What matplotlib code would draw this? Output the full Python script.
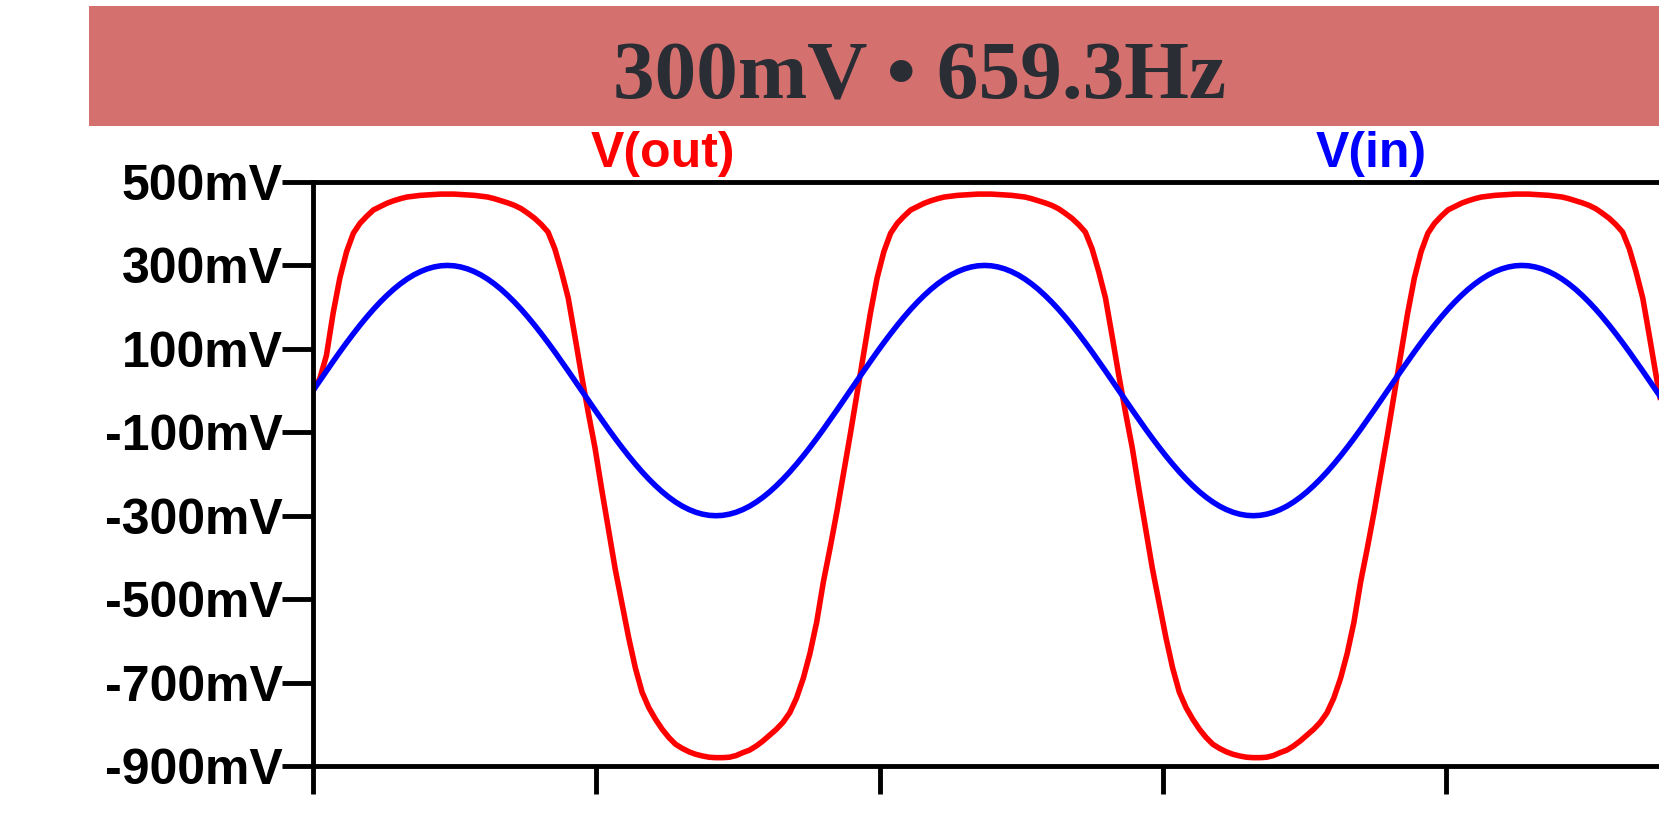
import matplotlib
matplotlib.use("Agg")
import matplotlib.pyplot as plt
from matplotlib.patches import Rectangle

# time in ms, one sample every 1/80 of a period (659.3 Hz)
t_ms = [0.0000, 0.0190, 0.0379, 0.0569, 0.0758, 0.0948, 0.1138, 0.1327, 0.1517, 0.1706,
        0.1896, 0.2086, 0.2275, 0.2465, 0.2654, 0.2844, 0.3034, 0.3223, 0.3413, 0.3602,
        0.3792, 0.3982, 0.4171, 0.4361, 0.4550, 0.4740, 0.4930, 0.5119, 0.5309, 0.5498,
        0.5688, 0.5878, 0.6067, 0.6257, 0.6446, 0.6636, 0.6826, 0.7015, 0.7205, 0.7394,
        0.7584, 0.7774, 0.7963, 0.8153, 0.8342, 0.8532, 0.8722, 0.8911, 0.9101, 0.9290,
        0.9480, 0.9670, 0.9859, 1.0049, 1.0238, 1.0428, 1.0618, 1.0807, 1.0997, 1.1186,
        1.1376, 1.1566, 1.1755, 1.1945, 1.2134, 1.2324, 1.2514, 1.2703, 1.2893, 1.3082,
        1.3272, 1.3462, 1.3651, 1.3841, 1.4030, 1.4220, 1.4410, 1.4599, 1.4789, 1.4978,
        1.5168, 1.5358, 1.5547, 1.5737, 1.5926, 1.6116, 1.6306, 1.6495, 1.6685, 1.6874,
        1.7064, 1.7254, 1.7443, 1.7633, 1.7822, 1.8012, 1.8202, 1.8391, 1.8581, 1.8770,
        1.8960, 1.9150, 1.9339, 1.9529, 1.9718, 1.9908, 2.0098, 2.0287, 2.0477, 2.0666,
        2.0856, 2.1046, 2.1235, 2.1425, 2.1614, 2.1804, 2.1994, 2.2183, 2.2373, 2.2562,
        2.2752, 2.2942, 2.3131, 2.3321, 2.3510, 2.3700, 2.3890, 2.4079, 2.4269, 2.4458,
        2.4648, 2.4838, 2.5027, 2.5217, 2.5406, 2.5596, 2.5786, 2.5975, 2.6165, 2.6354,
        2.6544, 2.6734, 2.6923, 2.7113, 2.7302, 2.7492, 2.7682, 2.7871, 2.8061, 2.8250,
        2.8440, 2.8630, 2.8819, 2.9009, 2.9198, 2.9388, 2.9578, 2.9767, 2.9957, 3.0146,
        3.0336, 3.0526, 3.0715, 3.0905, 3.1094, 3.1284, 3.1474, 3.1663, 3.1853, 3.2042,
        3.2232, 3.2422, 3.2611, 3.2801, 3.2990, 3.3180, 3.3370, 3.3559, 3.3749, 3.3938,
        3.4128, 3.4318, 3.4507, 3.4697, 3.4886, 3.5076, 3.5266, 3.5455, 3.5645, 3.5834,
        3.6024, 3.6214, 3.6403, 3.6593, 3.6782, 3.6972, 3.7162, 3.7351, 3.7541, 3.7730,
        3.7920, 3.8110, 3.8299]

# V(in), mV
v_in = [0, 23.5, 46.9, 70.0, 92.7, 114.8, 136.2, 156.7, 176.3, 194.8,
        212.1, 228.1, 242.7, 255.8, 267.3, 277.2, 285.3, 291.7, 296.3, 299.1,
        300, 299.1, 296.3, 291.7, 285.3, 277.2, 267.3, 255.8, 242.7, 228.1,
        212.1, 194.8, 176.3, 156.7, 136.2, 114.8, 92.7, 70.0, 46.9, 23.5,
        0, -23.5, -46.9, -70.0, -92.7, -114.8, -136.2, -156.7, -176.3, -194.8,
        -212.1, -228.1, -242.7, -255.8, -267.3, -277.2, -285.3, -291.7, -296.3, -299.1,
        -300, -299.1, -296.3, -291.7, -285.3, -277.2, -267.3, -255.8, -242.7, -228.1,
        -212.1, -194.8, -176.3, -156.7, -136.2, -114.8, -92.7, -70.0, -46.9, -23.5,
        0, 23.5, 46.9, 70.0, 92.7, 114.8, 136.2, 156.7, 176.3, 194.8,
        212.1, 228.1, 242.7, 255.8, 267.3, 277.2, 285.3, 291.7, 296.3, 299.1,
        300, 299.1, 296.3, 291.7, 285.3, 277.2, 267.3, 255.8, 242.7, 228.1,
        212.1, 194.8, 176.3, 156.7, 136.2, 114.8, 92.7, 70.0, 46.9, 23.5,
        0, -23.5, -46.9, -70.0, -92.7, -114.8, -136.2, -156.7, -176.3, -194.8,
        -212.1, -228.1, -242.7, -255.8, -267.3, -277.2, -285.3, -291.7, -296.3, -299.1,
        -300, -299.1, -296.3, -291.7, -285.3, -277.2, -267.3, -255.8, -242.7, -228.1,
        -212.1, -194.8, -176.3, -156.7, -136.2, -114.8, -92.7, -70.0, -46.9, -23.5,
        0, 23.5, 46.9, 70.0, 92.7, 114.8, 136.2, 156.7, 176.3, 194.8,
        212.1, 228.1, 242.7, 255.8, 267.3, 277.2, 285.3, 291.7, 296.3, 299.1,
        300, 299.1, 296.3, 291.7, 285.3, 277.2, 267.3, 255.8, 242.7, 228.1,
        212.1, 194.8, 176.3, 156.7, 136.2, 114.8, 92.7, 70.0, 46.9, 23.5,
        0, -23.5, -46.9]

# V(out), mV
v_out = [0, 28, 84, 186, 270, 333, 377, 401, 418, 433,
         441, 449, 455, 460, 464, 466, 468, 469, 470, 471,
         471, 471, 470, 469, 468, 466, 464, 460, 455, 450,
         444, 436, 425, 413, 398, 380, 340, 285, 222, 130,
         35, -54, -138, -238, -333, -428, -510, -592, -665, -723,
         -760, -788, -812, -832, -848, -858, -866, -872, -876, -879,
         -880, -880, -879, -875, -868, -862, -852, -840, -826, -812,
         -795, -772, -737, -690, -630, -555, -458, -377, -291, -199,
         -105, -8, 90, 186, 270, 333, 377, 401, 418, 433,
         441, 449, 455, 460, 464, 466, 468, 469, 470, 471,
         471, 471, 470, 469, 468, 466, 464, 460, 455, 450,
         444, 436, 425, 413, 398, 380, 340, 285, 222, 130,
         35, -54, -138, -238, -333, -428, -510, -592, -665, -723,
         -760, -788, -812, -832, -848, -858, -866, -872, -876, -879,
         -880, -880, -879, -875, -868, -862, -852, -840, -826, -812,
         -795, -772, -737, -690, -630, -555, -458, -377, -291, -199,
         -105, -8, 90, 186, 270, 333, 377, 401, 418, 433,
         441, 449, 455, 460, 464, 466, 468, 469, 470, 471,
         471, 471, 470, 469, 468, 466, 464, 460, 455, 450,
         444, 436, 425, 413, 398, 380, 340, 285, 222, 130,
         35, -54, -138]

y_ticks = [500, 300, 100, -100, -300, -500, -700, -900]
y_labels = ["500mV", "300mV", "100mV", "-100mV", "-300mV", "-500mV", "-700mV", "-900mV"]
x_ticks = [0.0, 0.8, 1.6, 2.4, 3.2]

W, H = 1659, 831
fig = plt.figure(figsize=(W / 100, H / 100), dpi=100)

# title bar
fig.patches.append(Rectangle((89 / W, 1 - 126 / H), 1 - 89 / W, 120 / H,
                             transform=fig.transFigure, facecolor="#d4716f",
                             edgecolor="none", zorder=0))
fig.text(920 / W, 1 - 98 / H, "300mV \u2022 659.3Hz", ha="center", va="baseline",
         fontsize=60, fontweight="bold", family="Liberation Serif", color="#2b2d34")

ax = fig.add_axes([313 / W, 1 - 766 / H, 1 - 313 / W, (766 - 182) / H])
ax.plot(t_ms, v_out, color="#ff0000", lw=4, solid_joinstyle="round")
ax.plot(t_ms, v_in, color="#0000ff", lw=4, solid_joinstyle="round")
ax.set_xlim(0, 3.80)
ax.set_ylim(-900, 500)

ax.spines["right"].set_visible(False)
for s in ("left", "top", "bottom"):
    ax.spines[s].set_linewidth(3.5)
    ax.spines[s].set_color("black")

ax.set_yticks(y_ticks)
ax.set_yticklabels(y_labels, fontsize=36, fontweight="bold", family="Liberation Sans")
ax.set_xticks(x_ticks)
ax.set_xticklabels([])
ax.tick_params(axis="y", direction="out", length=22, width=3.5, pad=0)
ax.tick_params(axis="x", direction="out", length=20, width=3.5)

# trace names
fig.text(663 / W, 1 - 167 / H, "V(out)", ha="center", va="baseline", fontsize=36,
         fontweight="bold", family="Liberation Sans", color="#ff0000")
fig.text(1371 / W, 1 - 167 / H, "V(in)", ha="center", va="baseline", fontsize=36,
         fontweight="bold", family="Liberation Sans", color="#0000ff")

fig.savefig("out.png", dpi=100)
